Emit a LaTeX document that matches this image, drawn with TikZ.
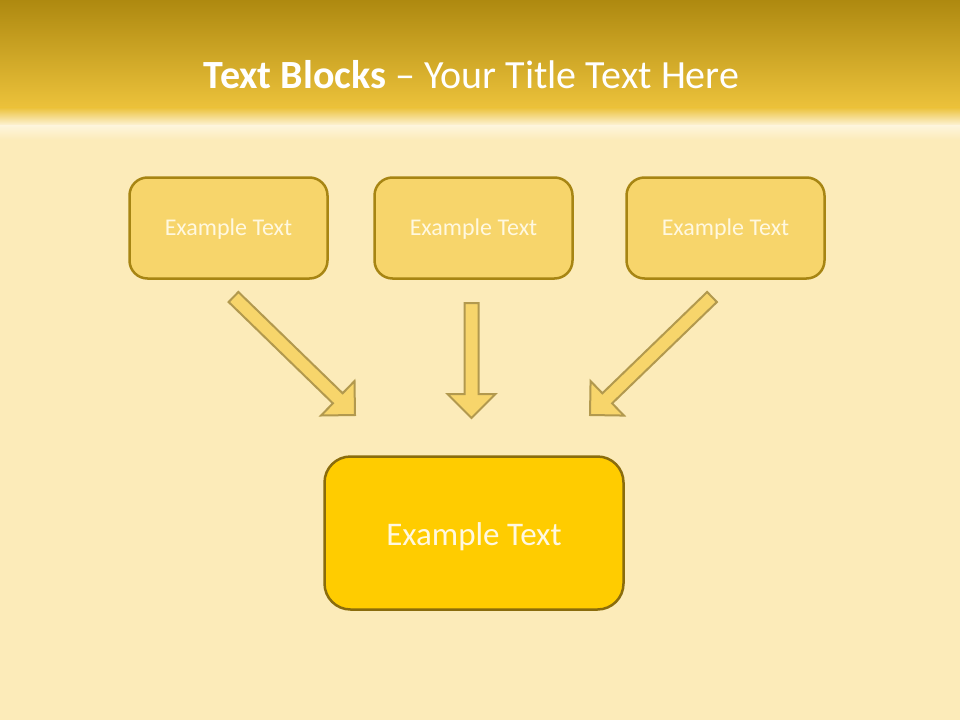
\documentclass[tikz,border=0pt]{standalone}
\usepackage{fontspec}
\setmainfont{Carlito}
\usetikzlibrary{calc}

\definecolor{bgcream}{HTML}{FCEBB9}
\definecolor{headtop}{HTML}{AE8910}
\definecolor{headbot}{HTML}{ECC23B}
\definecolor{boxfill}{HTML}{F7D56B}
\definecolor{boxline}{HTML}{A78513}
\definecolor{mainfill}{HTML}{FFCC00}
\definecolor{mainline}{HTML}{8A6C0C}
\definecolor{arrowline}{HTML}{B2994E}
\definecolor{lighttext}{HTML}{FFF8E0}

% text lowered onto the middle of a box
\newcommand{\boxtext}[2][0.32em]{\lower#1\hbox{#2}}

% block arrow from tail to tip
\newcommand{\blockarrow}[2]{%
  \coordinate (hb) at ($(#2)!24pt!(#1)$);
  \draw[arrow] ($(#1)!7pt!90:(#2)$) -- ($(hb)!7pt!90:(#2)$)
    -- ($(hb)!24pt!90:(#2)$) -- (#2) -- ($(hb)!24pt!-90:(#2)$)
    -- ($(hb)!7pt!-90:(#2)$) -- ($(#1)!7pt!-90:(#2)$) -- cycle;}

\begin{document}
\begin{tikzpicture}[x=1pt,y=-1pt]
    \tikzstyle{block}=[rectangle,rounded corners=18pt,draw=boxline,line width=2.5pt,
      fill=boxfill,text=lighttext,minimum width=198pt,minimum height=101pt,
      text height=0pt,text depth=0pt,font=\fontsize{24}{28}\selectfont]
    \tikzstyle{result}=[block,rounded corners=26pt,draw=mainline,fill=mainfill,
      minimum width=299pt,minimum height=153pt,font=\fontsize{33}{40}\selectfont]
    \tikzstyle{arrow}=[fill=boxfill,draw=arrowline,line width=2pt,line join=miter]

    % background and title bar
    \fill[bgcream] (0,0) rectangle (960,720);
    \shade[top color=headtop,bottom color=headbot] (0,0) rectangle (960,108);
    \shade[top color=headbot,bottom color=bgcream!50!white] (0,107.5) rectangle (960,126);
    \shade[top color=bgcream!50!white,bottom color=bgcream] (0,125.5) rectangle (960,140);
    \node[text=white,font=\fontsize{40}{48}\selectfont] (title) at (471.5,75)
      {\textbf{Text Blocks} – Your Title Text Here};

    \foreach \n/\x in {1/228.5,2/473.5,3/725.5}
    \node[block] (T-\n) at (\x,228) {\boxtext{Example Text}};

    \node[result] (R) at (474,533) {\boxtext[0.38em]{Example Text}};

    \coordinate (A-1) at (233.5,297);
    \coordinate (B-1) at (355,415);
    \coordinate (A-2) at (471.5,303);
    \coordinate (B-2) at (471.5,418);
    \coordinate (A-3) at (712,297);
    \coordinate (B-3) at (590,415);

    \foreach \n in {1,2,3}
    {\blockarrow{A-\n}{B-\n}}
\end{tikzpicture}
\end{document}
